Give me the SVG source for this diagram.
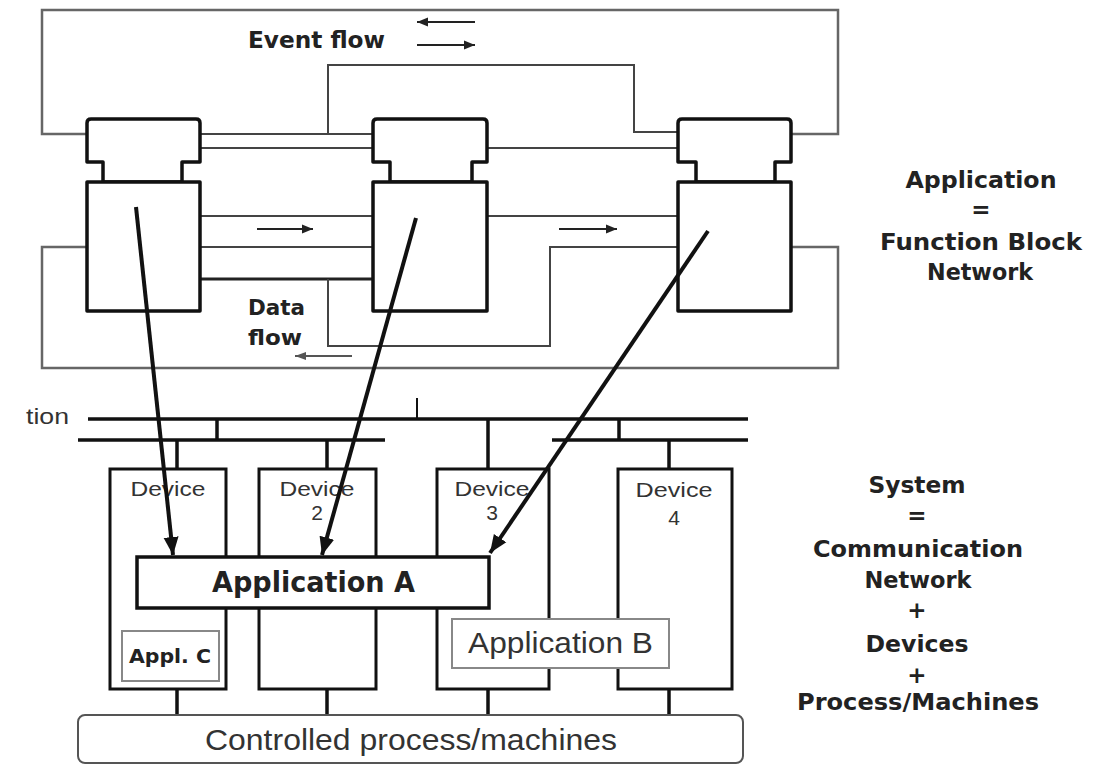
<svg xmlns="http://www.w3.org/2000/svg" width="1109" height="765" viewBox="0 0 1109 765">
<defs>
<marker id="bigHead" markerUnits="userSpaceOnUse" markerWidth="20" markerHeight="18" refX="18" refY="9" orient="auto">
<path d="M0,1.5 L18,9 L0,16.5 Z" fill="#111"/>
</marker>
<marker id="smallHead" markerUnits="userSpaceOnUse" markerWidth="12" markerHeight="10" refX="11" refY="5" orient="auto">
<path d="M0,0.5 L11,5 L0,9.5 Z" fill="#222"/>
</marker>
<marker id="greyHead" markerUnits="userSpaceOnUse" markerWidth="12" markerHeight="10" refX="11" refY="5" orient="auto">
<path d="M0,1 L11,5 L0,9 Z" fill="#555"/>
</marker>
</defs>
<style>
.fb{fill:#fff;stroke:#111;stroke-width:3.5;stroke-linejoin:round}
.frame{fill:none;stroke:#666;stroke-width:2.5}
.wire{fill:none;stroke:#444;stroke-width:2}
.wireT{fill:none;stroke:#222;stroke-width:3}
.flow{stroke:#222;stroke-width:2;marker-end:url(#smallHead)}
.big{stroke:#111;stroke-width:4;marker-end:url(#bigHead)}
.bus{stroke:#111;stroke-width:3.5}
.stub{stroke:#111;stroke-width:3.5}
.dev{fill:#fff;stroke:#111;stroke-width:3}
.appA{fill:#fff;stroke:#111;stroke-width:3.5}
.appG{fill:#fff;stroke:#888;stroke-width:2}
.proc{fill:#fff;stroke:#555;stroke-width:2}
.bold{font-family:"DejaVu Sans","Liberation Sans",sans-serif;font-weight:bold;fill:#222}
.reg{font-family:"Liberation Sans",Arial,sans-serif;fill:#333}
</style>

<g id="connectors">
<!-- event loop (top) -->
<polyline class="frame" points="87,134 42,134 42,10 838,10 838,134 791,134"/>
<!-- data loop (bottom) -->
<polyline class="frame" points="87,247 42,247 42,368 838,368 838,247 791,247"/>
<!-- event connections -->
<line class="wire" x1="200" y1="134" x2="373" y2="134"/>
<line class="wire" x1="200" y1="148" x2="373" y2="148"/>
<polyline class="wire" points="328,134 328,65 634,65 634,132 678,132"/>
<line class="wire" x1="487" y1="148" x2="678" y2="148"/>
<!-- data connections -->
<line class="wire" x1="200" y1="216" x2="373" y2="216"/>
<line class="wire" x1="200" y1="247" x2="373" y2="247"/>
<line class="wireT" x1="200" y1="279" x2="373" y2="279"/>
<polyline class="wire" points="328,279 328,346 550,346 550,247 678,247"/>
<line class="wire" x1="487" y1="216" x2="678" y2="216"/>
<!-- flow arrows -->
<line class="flow" x1="257" y1="229" x2="313" y2="229"/>
<line class="flow" x1="559" y1="229" x2="617" y2="229"/>
<line class="flow" x1="475" y1="22" x2="417" y2="22"/>
<line class="flow" x1="417" y1="45" x2="475" y2="45"/>
<line x1="352" y1="356" x2="295" y2="356" stroke="#555" stroke-width="1.8" marker-end="url(#greyHead)"/>
<!-- communication network -->
<line class="bus" x1="88" y1="419" x2="748" y2="419"/>
<line class="bus" x1="78" y1="440" x2="385" y2="440"/>
<line class="bus" x1="552" y1="440" x2="748" y2="440"/>
<line class="stub" x1="217" y1="419" x2="217" y2="440"/>
<line class="stub" x1="619" y1="419" x2="619" y2="440"/>
<line stroke="#111" stroke-width="2" x1="417" y1="398" x2="417" y2="419"/>
<line class="stub" x1="177" y1="440" x2="177" y2="469"/>
<line class="stub" x1="327" y1="440" x2="327" y2="469"/>
<line class="stub" x1="488" y1="419" x2="488" y2="469"/>
<line class="stub" x1="669" y1="440" x2="669" y2="469"/>
<!-- process connections -->
<line class="stub" x1="177" y1="689" x2="177" y2="715"/>
<line class="stub" x1="327" y1="689" x2="327" y2="715"/>
<line class="stub" x1="488" y1="689" x2="488" y2="715"/>
<line class="stub" x1="669" y1="689" x2="669" y2="715"/>
</g>

<g id="fb1">
<path class="fb" d="M87,162 V123 Q87,119 91,119 H196 Q200,119 200,123 V162 H182 V182 H103 V162 Z"/>
<rect class="fb" x="87" y="182" width="113" height="129"/>
</g>
<g id="fb2">
<path class="fb" d="M373,162 V123 Q373,119 377,119 H483 Q487,119 487,123 V162 H472 V182 H390 V162 Z"/>
<rect class="fb" x="373" y="182" width="114" height="129"/>
</g>
<g id="fb3">
<path class="fb" d="M678,162 V123 Q678,119 682,119 H787 Q791,119 791,123 V162 H775 V182 H696 V162 Z"/>
<rect class="fb" x="678" y="182" width="113" height="129"/>
</g>

<g id="legend">
<text class="bold" x="248" y="48" font-size="23" textLength="137" lengthAdjust="spacingAndGlyphs">Event flow</text>
<text class="bold" x="248" y="315" font-size="22" textLength="57" lengthAdjust="spacingAndGlyphs">Data</text>
<text class="bold" x="248" y="345" font-size="22" textLength="54" lengthAdjust="spacingAndGlyphs">flow</text>
</g>

<g id="network-label">
<text class="reg" x="26" y="424" font-size="22" textLength="43" lengthAdjust="spacingAndGlyphs">tion</text>
</g>

<g id="device1">
<rect class="dev" x="110" y="469" width="116" height="220"/>
<text class="reg" x="168" y="496" font-size="21" text-anchor="middle" textLength="75" lengthAdjust="spacingAndGlyphs">Device</text>
</g>
<g id="device2">
<rect class="dev" x="259" y="469" width="117" height="220"/>
<text class="reg" x="317" y="496" font-size="21" text-anchor="middle" textLength="75" lengthAdjust="spacingAndGlyphs">Device</text>
<text class="reg" x="317" y="520" font-size="21" text-anchor="middle">2</text>
</g>
<g id="device3">
<rect class="dev" x="437" y="469" width="112" height="220"/>
<text class="reg" x="492" y="496" font-size="21" text-anchor="middle" textLength="75" lengthAdjust="spacingAndGlyphs">Device</text>
<text class="reg" x="492" y="520" font-size="21" text-anchor="middle">3</text>
</g>
<g id="device4">
<rect class="dev" x="618" y="469" width="114" height="220"/>
<text class="reg" x="674" y="497" font-size="21" text-anchor="middle" textLength="77" lengthAdjust="spacingAndGlyphs">Device</text>
<text class="reg" x="674" y="525" font-size="21" text-anchor="middle">4</text>
</g>

<g id="applC">
<rect class="appG" x="122" y="631" width="97" height="50"/>
<text class="bold" x="129" y="663" font-size="19" textLength="82" lengthAdjust="spacingAndGlyphs">Appl. C</text>
</g>

<g id="applB">
<rect class="appG" x="452" y="619" width="217" height="49"/>
<text class="reg" x="468" y="653" font-size="29" fill="#444" textLength="185" lengthAdjust="spacingAndGlyphs">Application B</text>
</g>

<g id="applA">
<rect class="appA" x="137" y="557" width="352" height="51"/>
<text class="bold" x="212" y="592" font-size="28" textLength="203" lengthAdjust="spacingAndGlyphs">Application A</text>
</g>

<g id="mapping-arrows">
<line class="big" x1="136" y1="207" x2="173" y2="555"/>
<line class="big" x1="416" y1="218" x2="322" y2="555"/>
<line class="big" x1="708" y1="231" x2="490" y2="553"/>
</g>

<g id="process">
<rect class="proc" x="78" y="715" width="665" height="48" rx="7"/>
<text class="reg" x="205" y="750" font-size="29" fill="#444" textLength="412" lengthAdjust="spacingAndGlyphs">Controlled process/machines</text>
</g>

<g id="application-caption">
<text class="bold" x="981" y="188" font-size="23" text-anchor="middle" textLength="151" lengthAdjust="spacingAndGlyphs">Application</text>
<text class="bold" x="981" y="217" font-size="23" text-anchor="middle">=</text>
<text class="bold" x="981" y="250" font-size="23" text-anchor="middle" textLength="202" lengthAdjust="spacingAndGlyphs">Function Block</text>
<text class="bold" x="980" y="280" font-size="23" text-anchor="middle" textLength="106" lengthAdjust="spacingAndGlyphs">Network</text>
</g>

<g id="system-caption">
<text class="bold" x="917" y="493" font-size="23" text-anchor="middle" textLength="97" lengthAdjust="spacingAndGlyphs">System</text>
<text class="bold" x="917" y="523" font-size="23" text-anchor="middle">=</text>
<text class="bold" x="918" y="557" font-size="23" text-anchor="middle" textLength="210" lengthAdjust="spacingAndGlyphs">Communication</text>
<text class="bold" x="918" y="588" font-size="23" text-anchor="middle" textLength="107" lengthAdjust="spacingAndGlyphs">Network</text>
<text class="bold" x="917" y="618" font-size="23" text-anchor="middle">+</text>
<text class="bold" x="917" y="652" font-size="23" text-anchor="middle" textLength="103" lengthAdjust="spacingAndGlyphs">Devices</text>
<text class="bold" x="917" y="683" font-size="23" text-anchor="middle">+</text>
<text class="bold" x="918" y="710" font-size="23" text-anchor="middle" textLength="242" lengthAdjust="spacingAndGlyphs">Process/Machines</text>
</g>
</svg>
